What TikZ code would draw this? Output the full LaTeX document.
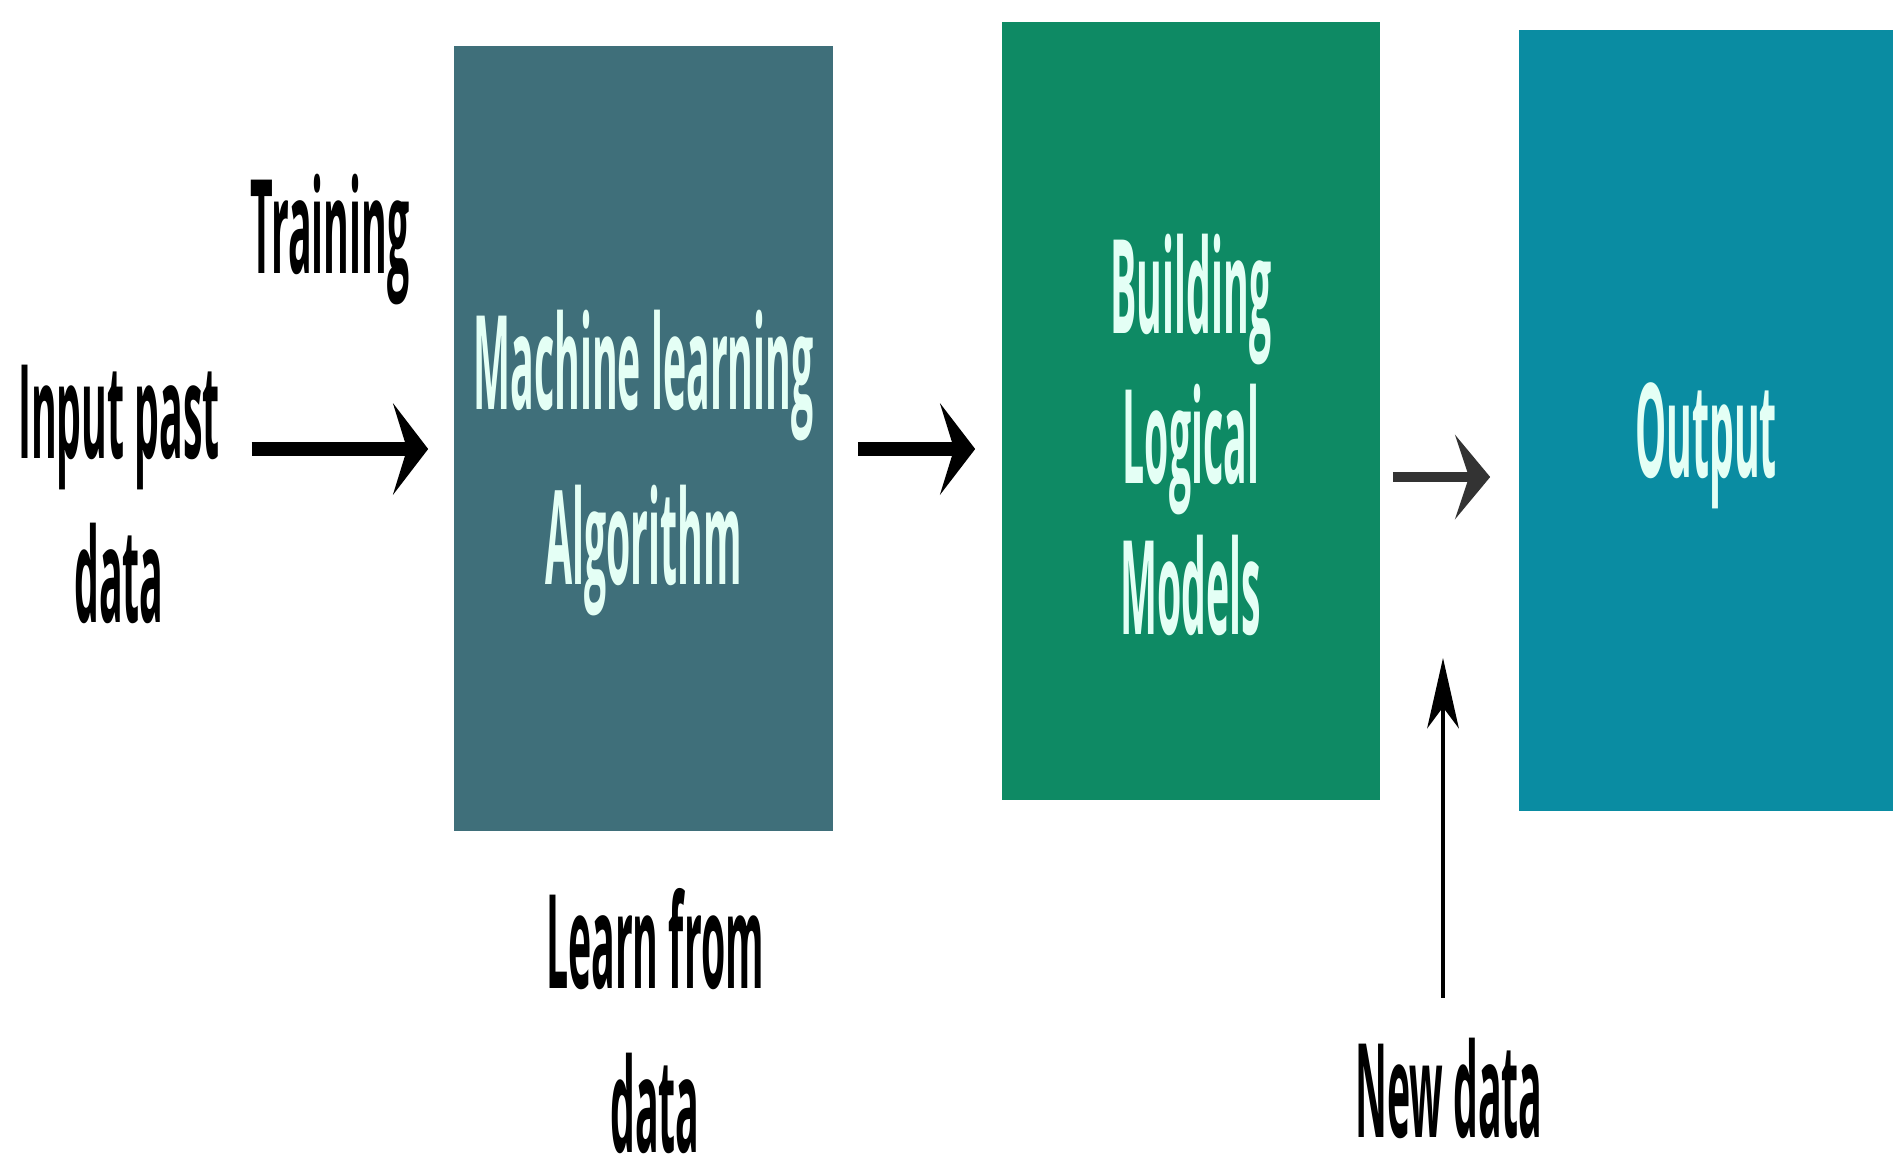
\documentclass[tikz,border=0pt]{standalone}
\usepackage{fontspec}
\setmainfont{Open Sans}
\usepackage{graphicx}
\usetikzlibrary{arrows.meta,positioning}
\definecolor{mlteal}{RGB}{63,111,122}
\definecolor{modelgreen}{RGB}{14,138,100}
\definecolor{outblue}{RGB}{10,140,162}
\definecolor{boxtext}{RGB}{228,255,245}
\newcommand{\tallfont}{\fontsize{12}{15}\selectfont\bfseries}
\newcommand{\stretched}[1]{\scalebox{0.93}[3.1]{\tallfont\begin{tabular}{@{}c@{}}#1\end{tabular}}}
\tikzset{
  box/.style={rectangle, inner sep=0pt},
  boxlbl/.style={inner sep=0pt, text=boxtext},
  mlbox/.style={box, fill=mlteal, minimum width=3.79cm, minimum height=7.85cm},
  modelbox/.style={box, fill=modelgreen, minimum width=3.78cm, minimum height=7.78cm},
  outbox/.style={box, fill=outblue, minimum width=3.74cm, minimum height=7.81cm},
  lbl/.style={inner sep=0pt, text=black},
  arrow/.style={-{Stealth[length=10pt, width=26pt, inset=4pt]}, line width=4pt},
  greyarrow/.style={-{Stealth[length=10pt, width=24pt, inset=4pt]}, line width=2.8pt, draw=black!80},
  thinarrow/.style={-{Stealth[length=20pt, width=9pt, inset=6pt]}, line width=1.2pt},
}

\begin{document}
\begin{tikzpicture}[x=0.01cm, y=-0.01cm]
  \useasboundingbox (0,0) rectangle (1893,1175);

  % Stages
  \node[mlbox, label={[boxlbl, yshift=-0.26cm]center:\stretched{Machine learning\\[1.1pt]Algorithm}}] (ml) at (643.5,438.5) {};
  \node[modelbox, label={[boxlbl, yshift=-0.40cm]center:\stretched{Building\\[-1.2pt]Logical\\[-1.2pt]Models}}] (models) at (1191,411) {};
  \node[outbox, label={[boxlbl, yshift=-0.24cm]center:\stretched{Output}}] (out) at (1706,420.5) {};

  % Labels
  \node[lbl] (training) at (330,241) {\stretched{Training}};
  \node[lbl] (input) at (119,508) {\stretched{Input past\\data}};
  \node[lbl] (learn) at (655,1038) {\stretched{Learn from\\data}};
  \node[lbl] (newdata) at (1449,1105) {\stretched{New data}};

  % Flow
  \coordinate (row) at (0,449);
  \coordinate (row2) at (0,477);
  \coordinate (newin) at (1443,658);
  \draw[arrow, shorten <=0.31cm, shorten >=0.25cm] (input.east |- row) -- (ml.west |- row);
  \draw[arrow, shorten <=0.24cm, shorten >=0.26cm] (ml.east |- row) -- (models.west |- row);
  \draw[greyarrow, shorten <=0.12cm, shorten >=0.28cm] (models.east |- row2) -- (out.west |- row2);
  \draw[thinarrow, shorten <=0.25cm] (newdata.north -| newin) -- (newin);
\end{tikzpicture}
\end{document}
